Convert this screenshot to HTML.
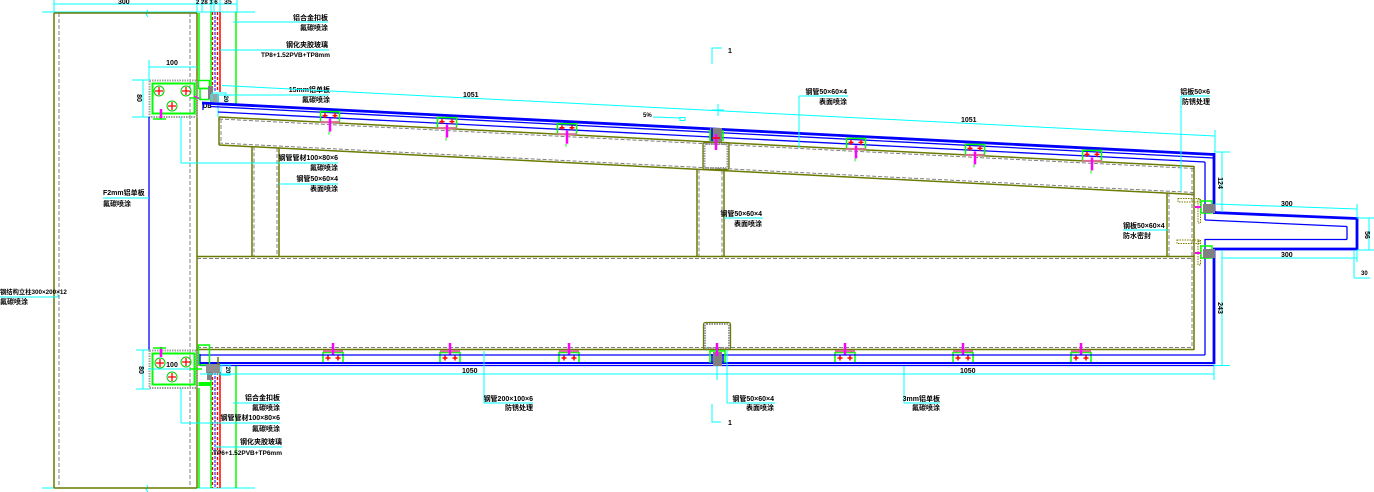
<!DOCTYPE html>
<html><head><meta charset="utf-8">
<style>
html,body{margin:0;padding:0;background:#fff;}
svg{display:block;}
text{font-family:"Liberation Sans","Noto Sans CJK SC",sans-serif;font-size:7px;font-weight:bold;fill:#000;}
.cy{stroke:#00ffff;stroke-width:1;fill:none;}
.ol{stroke:#6b7a00;stroke-width:1.5;fill:none;}
.gd{stroke:#808080;stroke-width:1;stroke-dasharray:4 2;fill:none;}
.bl{stroke:#0000ff;stroke-width:1.3;fill:none;}
.bt{stroke:#0000ff;stroke-width:2.8;fill:none;}
.gr{stroke:#00ff00;stroke-width:1.5;fill:none;}
.rd{stroke:#ff0000;stroke-width:1.5;fill:none;}
.mg{stroke:#ff00ff;stroke-width:2.5;fill:none;}
</style></head>
<body>
<svg width="1374" height="492" viewBox="0 0 1374 492" xmlns="http://www.w3.org/2000/svg">
<rect width="1374" height="492" fill="#fff"/>

<!-- ===== Column ===== -->
<line class="cy" x1="54" y1="4" x2="237" y2="4"/>
<line class="cy" x1="54" y1="0" x2="54" y2="12"/>
<line class="cy" x1="197" y1="0" x2="197" y2="12"/>
<line class="cy" x1="202" y1="0" x2="202" y2="12"/>
<line class="cy" x1="211" y1="0" x2="211" y2="12"/>
<line class="cy" x1="214" y1="0" x2="214" y2="12"/>
<line class="cy" x1="220" y1="0" x2="220" y2="12"/>
<line class="cy" x1="237" y1="0" x2="237" y2="12"/>
<text x="118" y="4">300</text>
<text x="196" y="4" style="font-size:6px">2 28 3 6</text>
<text x="224" y="4">35</text>
<line class="cy" x1="42" y1="12" x2="255" y2="12"/>
<line class="cy" x1="42" y1="488" x2="255" y2="488"/>
<path class="cy" d="M147 10 l1 3 l-2 1 l2 3"/>
<path class="cy" d="M147 485 l1 3 l-2 1 l2 3"/>

<line class="ol" x1="54" y1="13" x2="197" y2="13"/>
<line class="ol" x1="54" y1="488" x2="197" y2="488"/>
<line class="ol" x1="54" y1="13" x2="54" y2="488"/>
<line class="ol" x1="197" y1="13" x2="197" y2="488"/>
<line class="gd" x1="59" y1="13" x2="59" y2="488"/>
<line class="gd" x1="190" y1="13" x2="190" y2="488"/>
<line class="gr" x1="199" y1="13" x2="199" y2="80"/>
<line class="gr" x1="199" y1="388" x2="199" y2="488"/>

<!-- glass top -->
<line class="gr" x1="211" y1="12" x2="211" y2="95"/>
<line stroke="#ff0000" stroke-width="1.3" stroke-dasharray="3 2" x1="212.5" y1="12" x2="212.5" y2="92"/>
<line stroke="#8080ff" stroke-width="2" stroke-dasharray="3 1" x1="215" y1="12" x2="215" y2="92"/>
<line stroke="#ff0000" stroke-width="1.3" stroke-dasharray="3 2" x1="217.5" y1="12" x2="217.5" y2="92"/>
<line class="rd" x1="220" y1="12" x2="220" y2="92"/>
<line class="gr" x1="236" y1="12" x2="236" y2="104"/>
<!-- glass bottom -->
<line class="gr" x1="211" y1="372" x2="211" y2="488"/>
<line stroke="#ff0000" stroke-width="1.3" stroke-dasharray="3 2" x1="212.5" y1="372" x2="212.5" y2="488"/>
<line stroke="#8080ff" stroke-width="2" stroke-dasharray="3 1" x1="215" y1="372" x2="215" y2="488"/>
<line stroke="#ff0000" stroke-width="1.3" stroke-dasharray="3 2" x1="217.5" y1="372" x2="217.5" y2="488"/>
<line class="rd" x1="220" y1="372" x2="220" y2="488"/>
<line class="gr" x1="236" y1="366" x2="236" y2="488"/>

<!-- labels upper left -->
<line class="cy" x1="233" y1="22" x2="328" y2="22"/>
<text x="328" y="20" text-anchor="end">铝合金扣板</text>
<text x="328" y="30" text-anchor="end">氟碳喷涂</text>
<line class="cy" x1="220" y1="50" x2="329" y2="50"/>
<text x="328" y="47" text-anchor="end">钢化夹胶玻璃</text>
<text x="330" y="57" text-anchor="end" style="font-size:6.5px">TP8+1.52PVB+TP8mm</text>

<!-- top bracket -->
<line class="cy" x1="149" y1="60" x2="149" y2="80"/>
<line class="cy" x1="149" y1="67" x2="197" y2="67"/>
<text x="172" y="65" text-anchor="middle">100</text>
<line class="cy" x1="132" y1="80" x2="150" y2="80"/>
<line class="cy" x1="132" y1="117" x2="150" y2="117"/>
<line class="cy" x1="143" y1="80" x2="143" y2="117"/>
<text x="0" y="0" transform="translate(137,98) rotate(90)" text-anchor="middle">80</text>
<rect x="149.5" y="80.5" width="47" height="36.5" fill="none" stroke="#a0a0a0" stroke-width="2" stroke-dasharray="1.5 1"/>
<rect x="152.5" y="83.5" width="42" height="30" fill="none" stroke="#00ff00" stroke-width="2"/>
<g stroke="#00cc00" stroke-width="1" fill="none"><circle cx="159" cy="91" r="5"/><circle cx="186" cy="91" r="5"/><circle cx="172" cy="106" r="5"/></g>
<g stroke="#ff0000" stroke-width="1.3"><path d="M155 91h8M159 87v8M182 91h8M186 87v8M168 106h8M172 102v8"/></g>
<line class="mg" x1="161" y1="109" x2="161" y2="119"/>
<line class="gr" x1="153" y1="119" x2="166" y2="119"/>
<line class="gr" x1="190" y1="98" x2="201" y2="98"/>
<line stroke="#ff00ff" stroke-width="1.5" x1="194" y1="96" x2="200" y2="99"/>
<rect x="198.5" y="80.5" width="11" height="8" fill="none" stroke="#00ff00" stroke-width="1.5"/>
<rect x="200" y="88.5" width="9" height="11" fill="none" stroke="#00ff00" stroke-width="1.5"/>
<rect x="208" y="86" width="5" height="13" fill="#808080"/>
<rect x="210" y="94" width="9" height="8" fill="#a0a0a0"/>
<rect x="212" y="93" width="14" height="11" fill="none" stroke="#00ffff" stroke-width="1"/>
<text x="0" y="0" transform="translate(224,99) rotate(90)" text-anchor="middle" style="font-size:6px">20</text>
<text x="203" y="108" style="font-size:6px">DB</text>
<line class="cy" x1="218" y1="94" x2="218" y2="117"/>
<line class="cy" x1="218" y1="95" x2="329" y2="95"/>
<text x="330" y="92" text-anchor="end">15mm铝单板</text>
<text x="330" y="102" text-anchor="end">氟碳喷涂</text>

<!-- blue link between brackets -->
<line class="bl" x1="149" y1="117" x2="149" y2="350"/>
<line class="cy" x1="103" y1="198" x2="149" y2="198"/>
<text x="103" y="195">F2mm铝单板</text>
<text x="103" y="206">氟碳喷涂</text>

<!-- left label -->
<line class="cy" x1="0" y1="297" x2="58" y2="297"/>
<line class="cy" x1="58" y1="294" x2="58" y2="297"/>
<text x="0" y="294" style="font-size:6.3px">钢结构立柱300×200×12</text>
<text x="0" y="304">氟碳喷涂</text>

<!-- ===== Sloped roof ===== -->
<!-- cyan slope dim -->
<line class="cy" x1="222" y1="85.5" x2="1215" y2="136"/>
<line class="cy" x1="1215" y1="130" x2="1215" y2="152"/>
<text x="463" y="97">1051</text>
<text x="961" y="122">1051</text>
<line class="cy" x1="712" y1="110" x2="724" y2="110"/>
<line class="cy" x1="718" y1="104" x2="718" y2="116"/>
<text x="643" y="117" style="font-size:6px">5%</text>
<line class="cy" x1="653" y1="117" x2="680" y2="118"/>
<rect x="680" y="117.5" width="5" height="3" fill="none" stroke="#00ffff" stroke-width="1"/>

<!-- section marks -->
<path class="cy" d="M722 48 H712 V64"/>
<text x="728" y="53">1</text>
<path class="cy" d="M712 404 V422 H721"/>
<text x="728" y="425">1</text>

<!-- blue roof skin -->
<line class="bt" x1="202" y1="103" x2="1214" y2="154.5"/>
<line class="bl" x1="210" y1="106.5" x2="1214" y2="158"/>
<line class="bl" x1="218" y1="112" x2="1205" y2="162"/>
<line class="bl" x1="203" y1="103" x2="203" y2="110"/>
<line class="bt" x1="1214" y1="153" x2="1214" y2="212"/>
<line class="bl" x1="1205" y1="162" x2="1205" y2="220"/>

<!-- upper sloped beam -->
<line class="ol" x1="219" y1="117" x2="1194" y2="166.5"/>
<line class="gd" x1="219" y1="119" x2="1194" y2="168.5"/>
<line class="ol" x1="219" y1="145" x2="1194" y2="194.5"/>
<line class="gd" x1="219" y1="143" x2="1194" y2="192.5"/>
<line class="ol" x1="219" y1="117" x2="219" y2="145"/>
<line class="gd" x1="221" y1="119" x2="221" y2="143"/>
<line class="ol" x1="1194" y1="166" x2="1194" y2="350"/>
<line class="gd" x1="1192" y1="168" x2="1192" y2="348"/>

<!-- verticals -->
<line class="ol" x1="252" y1="146.5" x2="252" y2="256"/>
<line class="gd" x1="254" y1="146.5" x2="254" y2="256"/>
<line class="gd" x1="277" y1="148" x2="277" y2="256"/>
<line class="ol" x1="279" y1="148" x2="279" y2="256"/>
<line class="ol" x1="697" y1="169.5" x2="697" y2="256"/>
<line class="gd" x1="699" y1="169.5" x2="699" y2="256"/>
<line class="gd" x1="722" y1="170.5" x2="722" y2="256"/>
<line class="ol" x1="724" y1="170.5" x2="724" y2="256"/>
<line class="ol" x1="1167" y1="193" x2="1167" y2="256"/>
<line class="gd" x1="1169" y1="193" x2="1169" y2="256"/>

<!-- mid horizontal & bottom beam -->
<line class="ol" x1="197" y1="256.5" x2="1194" y2="256.5"/>
<line class="gd" x1="197" y1="258.5" x2="1194" y2="258.5"/>
<line class="gd" x1="197" y1="347.5" x2="1194" y2="347.5"/>
<line class="ol" x1="197" y1="349.5" x2="1194" y2="349.5"/>

<!-- tubes -->
<rect x="703" y="142.5" width="26" height="27" rx="2" fill="none" stroke="#6b7a00" stroke-width="1.3"/>
<rect x="704.5" y="144" width="23" height="24" rx="1.5" fill="none" stroke="#909090" stroke-width="2" stroke-dasharray="1.5 1"/>
<rect x="703.5" y="322.5" width="27" height="27" rx="2" fill="none" stroke="#6b7a00" stroke-width="1.3"/>
<rect x="705" y="324" width="24" height="24" rx="1.5" fill="none" stroke="#909090" stroke-width="2" stroke-dasharray="1.5 1"/>

<!-- mid top special connector -->
<rect x="710" y="128" width="12" height="14" fill="#808080"/>
<line class="gr" x1="710" y1="130" x2="710" y2="141"/>
<line class="gr" x1="723" y1="130" x2="723" y2="141"/>
<line stroke="#0000ff" stroke-width="1.5" x1="712" y1="128" x2="712" y2="141"/>
<line class="mg" x1="716" y1="134" x2="716" y2="150"/>
<line class="rd" x1="712" y1="138" x2="720" y2="138"/>

<!-- top connectors -->
<g id="tc">
</g>
<g>
<!-- cx, yb -->
<g transform="translate(330,122.6)"><rect x="-9.5" y="-11" width="19" height="10.5" fill="none" stroke="#00ff00" stroke-width="1.5"/><rect x="-10" y="-1.5" width="20" height="2" fill="#d87093"/><path d="M-7.5 -7h5M-5 -9.5v5M2.5 -7h5M5 -9.5v5" stroke="#ff0000" stroke-width="1.5"/><line class="mg" x1="0" y1="-4" x2="0" y2="9"/><line stroke="#00ff00" stroke-width="1" x1="-1" y1="9" x2="-1" y2="12"/></g>
<g transform="translate(447,128.6)"><rect x="-9.5" y="-11" width="19" height="10.5" fill="none" stroke="#00ff00" stroke-width="1.5"/><rect x="-10" y="-1.5" width="20" height="2" fill="#d87093"/><path d="M-7.5 -7h5M-5 -9.5v5M2.5 -7h5M5 -9.5v5" stroke="#ff0000" stroke-width="1.5"/><line class="mg" x1="0" y1="-4" x2="0" y2="9"/><line stroke="#00ff00" stroke-width="1" x1="-1" y1="9" x2="-1" y2="12"/></g>
<g transform="translate(567,134.7)"><rect x="-9.5" y="-11" width="19" height="10.5" fill="none" stroke="#00ff00" stroke-width="1.5"/><rect x="-10" y="-1.5" width="20" height="2" fill="#d87093"/><path d="M-7.5 -7h5M-5 -9.5v5M2.5 -7h5M5 -9.5v5" stroke="#ff0000" stroke-width="1.5"/><line class="mg" x1="0" y1="-4" x2="0" y2="9"/><line stroke="#00ff00" stroke-width="1" x1="-1" y1="9" x2="-1" y2="12"/></g>
<g transform="translate(856,149.4)"><rect x="-9.5" y="-11" width="19" height="10.5" fill="none" stroke="#00ff00" stroke-width="1.5"/><rect x="-10" y="-1.5" width="20" height="2" fill="#d87093"/><path d="M-7.5 -7h5M-5 -9.5v5M2.5 -7h5M5 -9.5v5" stroke="#ff0000" stroke-width="1.5"/><line class="mg" x1="0" y1="-4" x2="0" y2="9"/><line stroke="#00ff00" stroke-width="1" x1="-1" y1="9" x2="-1" y2="12"/></g>
<g transform="translate(975,155.4)"><rect x="-9.5" y="-11" width="19" height="10.5" fill="none" stroke="#00ff00" stroke-width="1.5"/><rect x="-10" y="-1.5" width="20" height="2" fill="#d87093"/><path d="M-7.5 -7h5M-5 -9.5v5M2.5 -7h5M5 -9.5v5" stroke="#ff0000" stroke-width="1.5"/><line class="mg" x1="0" y1="-4" x2="0" y2="9"/><line stroke="#00ff00" stroke-width="1" x1="-1" y1="9" x2="-1" y2="12"/></g>
<g transform="translate(1092,161.4)"><rect x="-9.5" y="-11" width="19" height="10.5" fill="none" stroke="#00ff00" stroke-width="1.5"/><rect x="-10" y="-1.5" width="20" height="2" fill="#d87093"/><path d="M-7.5 -7h5M-5 -9.5v5M2.5 -7h5M5 -9.5v5" stroke="#ff0000" stroke-width="1.5"/><line class="mg" x1="0" y1="-4" x2="0" y2="9"/><line stroke="#00ff00" stroke-width="1" x1="-1" y1="9" x2="-1" y2="12"/></g>
</g>

<!-- bottom connectors -->
<g transform="translate(333,350)"><rect x="-10" y="2.5" width="20" height="10.5" fill="none" stroke="#00ff00" stroke-width="1.5"/><rect x="-10" y="0" width="20" height="2.2" fill="#d87093"/><path d="M-7.5 8h5M-5 5.5v5M2.5 8h5M5 5.5v5" stroke="#ff0000" stroke-width="1.5"/><line class="mg" x1="0" y1="-7" x2="0" y2="5"/></g>
<g transform="translate(450,350)"><rect x="-10" y="2.5" width="20" height="10.5" fill="none" stroke="#00ff00" stroke-width="1.5"/><rect x="-10" y="0" width="20" height="2.2" fill="#d87093"/><path d="M-7.5 8h5M-5 5.5v5M2.5 8h5M5 5.5v5" stroke="#ff0000" stroke-width="1.5"/><line class="mg" x1="0" y1="-7" x2="0" y2="5"/></g>
<g transform="translate(569,350)"><rect x="-10" y="2.5" width="20" height="10.5" fill="none" stroke="#00ff00" stroke-width="1.5"/><rect x="-10" y="0" width="20" height="2.2" fill="#d87093"/><path d="M-7.5 8h5M-5 5.5v5M2.5 8h5M5 5.5v5" stroke="#ff0000" stroke-width="1.5"/><line class="mg" x1="0" y1="-7" x2="0" y2="5"/></g>
<g transform="translate(845,350)"><rect x="-10" y="2.5" width="20" height="10.5" fill="none" stroke="#00ff00" stroke-width="1.5"/><rect x="-10" y="0" width="20" height="2.2" fill="#d87093"/><path d="M-7.5 8h5M-5 5.5v5M2.5 8h5M5 5.5v5" stroke="#ff0000" stroke-width="1.5"/><line class="mg" x1="0" y1="-7" x2="0" y2="5"/></g>
<g transform="translate(963,350)"><rect x="-10" y="2.5" width="20" height="10.5" fill="none" stroke="#00ff00" stroke-width="1.5"/><rect x="-10" y="0" width="20" height="2.2" fill="#d87093"/><path d="M-7.5 8h5M-5 5.5v5M2.5 8h5M5 5.5v5" stroke="#ff0000" stroke-width="1.5"/><line class="mg" x1="0" y1="-7" x2="0" y2="5"/></g>
<g transform="translate(1081,350)"><rect x="-10" y="2.5" width="20" height="10.5" fill="none" stroke="#00ff00" stroke-width="1.5"/><rect x="-10" y="0" width="20" height="2.2" fill="#d87093"/><path d="M-7.5 8h5M-5 5.5v5M2.5 8h5M5 5.5v5" stroke="#ff0000" stroke-width="1.5"/><line class="mg" x1="0" y1="-7" x2="0" y2="5"/></g>

<!-- bottom blue skin -->
<line class="bl" x1="200" y1="355" x2="1205" y2="355"/>
<line stroke="#0000ff" stroke-width="2" x1="200" y1="363" x2="1214" y2="363"/>
<line class="bl" x1="200" y1="365.5" x2="1214" y2="365.5"/>
<line class="bl" x1="200" y1="354" x2="200" y2="366"/>
<line class="bl" x1="1205" y1="239" x2="1205" y2="355"/>
<line class="bt" x1="1214" y1="249" x2="1214" y2="364"/>

<!-- mid bottom special connector -->
<rect x="710" y="351" width="15" height="11" fill="none" stroke="#00ff00" stroke-width="1.5"/>
<rect x="713" y="352" width="9" height="14" fill="#808080"/>
<line stroke="#0000ff" stroke-width="1.5" x1="712" y1="354" x2="712" y2="364"/>
<line stroke="#0000ff" stroke-width="1.5" x1="723" y1="354" x2="723" y2="364"/>
<line class="mg" x1="717" y1="343" x2="717" y2="356"/>

<!-- bottom bracket -->
<line class="cy" x1="136" y1="350" x2="150" y2="350"/>
<line class="cy" x1="136" y1="389" x2="150" y2="389"/>
<line class="cy" x1="143" y1="350" x2="143" y2="389"/>
<text x="0" y="0" transform="translate(139,370) rotate(90)" text-anchor="middle">80</text>
<rect x="149.5" y="350.5" width="47" height="37.5" fill="none" stroke="#a0a0a0" stroke-width="2" stroke-dasharray="1.5 1"/>
<rect x="152.5" y="353.5" width="42" height="31" fill="none" stroke="#00ff00" stroke-width="2"/>
<g stroke="#00cc00" stroke-width="1" fill="none"><circle cx="160" cy="363" r="5"/><circle cx="186" cy="362" r="5"/><circle cx="172" cy="377" r="5"/></g>
<g stroke="#ff0000" stroke-width="1.3"><path d="M156 363h8M160 359v8M182 362h8M186 358v8M168 377h8M172 373v8"/></g>
<line class="cy" x1="148" y1="369" x2="200" y2="369"/>
<text x="172" y="367" text-anchor="middle">100</text>
<line class="mg" x1="161" y1="347" x2="161" y2="357"/>
<line class="gr" x1="153" y1="348" x2="166" y2="348"/>
<line class="gr" x1="190" y1="369" x2="202" y2="369"/>
<rect x="198.5" y="345" width="11" height="20" fill="none" stroke="#00ff00" stroke-width="1.5"/>
<rect x="198.5" y="382" width="12" height="4" fill="#00ff00"/>
<rect x="206" y="364" width="14" height="9" fill="#909090"/>
<rect x="207" y="372" width="5" height="8" fill="#808080"/>
<path d="M218 357v7h2" stroke="#6b7a00" stroke-width="1.5" fill="none"/>
<rect x="221" y="365" width="9" height="10" fill="none" stroke="#00ffff" stroke-width="1"/>
<text x="0" y="0" transform="translate(226,370) rotate(90)" text-anchor="middle" style="font-size:6px">20</text>

<!-- bottom left labels -->
<line class="cy" x1="233" y1="403" x2="280" y2="403"/>
<text x="280" y="400" text-anchor="end">铝合金扣板</text>
<text x="280" y="410" text-anchor="end">氟碳喷涂</text>
<line class="cy" x1="181" y1="388" x2="181" y2="423"/>
<line class="cy" x1="181" y1="423" x2="280" y2="423"/>
<text x="280" y="420" text-anchor="end">钢管管材100×80×6</text>
<text x="280" y="431" text-anchor="end">氟碳喷涂</text>
<line class="cy" x1="215" y1="447" x2="282" y2="447"/>
<text x="282" y="444" text-anchor="end">钢化夹胶玻璃</text>
<text x="282" y="455" text-anchor="end" style="font-size:6.5px">TP6+1.52PVB+TP6mm</text>

<!-- mid labels upper -->
<line class="cy" x1="181" y1="117" x2="181" y2="163"/>
<line class="cy" x1="181" y1="163" x2="338" y2="163"/>
<text x="338" y="160" text-anchor="end">钢管管材100×80×6</text>
<text x="338" y="170" text-anchor="end">氟碳喷涂</text>
<line class="cy" x1="279" y1="184" x2="338" y2="184"/>
<text x="338" y="181" text-anchor="end">钢管50×60×4</text>
<text x="338" y="191" text-anchor="end">表面喷涂</text>

<line class="cy" x1="799" y1="96" x2="799" y2="148"/>
<line class="cy" x1="799" y1="96" x2="848" y2="96"/>
<text x="847" y="94" text-anchor="end">钢管50×60×4</text>
<text x="847" y="104" text-anchor="end">表面喷涂</text>

<line class="cy" x1="724" y1="218" x2="763" y2="218"/>
<text x="762" y="216" text-anchor="end">钢管50×60×4</text>
<text x="762" y="226" text-anchor="end">表面喷涂</text>

<line class="cy" x1="1181" y1="96" x2="1181" y2="191"/>
<line class="cy" x1="1181" y1="96" x2="1210" y2="96"/>
<text x="1210" y="94" text-anchor="end">铝板50×6</text>
<text x="1210" y="104" text-anchor="end">防锈处理</text>

<line class="cy" x1="1123" y1="230" x2="1168" y2="230"/>
<text x="1123" y="228">钢板50×60×4</text>
<text x="1123" y="238">防水密封</text>

<!-- bottom dims & labels -->
<line class="cy" x1="200" y1="374" x2="1214" y2="374"/>
<line class="cy" x1="1214" y1="364" x2="1214" y2="380"/>
<line class="cy" x1="717" y1="366" x2="717" y2="380"/>
<text x="462" y="373">1050</text>
<text x="960" y="373">1050</text>
<line class="cy" x1="484" y1="351" x2="484" y2="403"/>
<line class="cy" x1="484" y1="403" x2="533" y2="403"/>
<text x="533" y="401" text-anchor="end">钢管200×100×6</text>
<text x="533" y="410" text-anchor="end">防锈处理</text>
<line class="cy" x1="727" y1="350" x2="727" y2="403"/>
<line class="cy" x1="727" y1="403" x2="775" y2="403"/>
<text x="774" y="401" text-anchor="end">钢管50×60×4</text>
<text x="774" y="410" text-anchor="end">表面喷涂</text>
<line class="cy" x1="904" y1="366" x2="904" y2="403"/>
<line class="cy" x1="904" y1="403" x2="940" y2="403"/>
<text x="940" y="401" text-anchor="end">3mm铝单板</text>
<text x="940" y="410" text-anchor="end">氟碳喷涂</text>

<!-- ===== Awning (right) ===== -->
<line class="bt" x1="1213" y1="212.5" x2="1357" y2="218.5"/>
<line class="bl" x1="1205" y1="220" x2="1347" y2="226.5"/>
<line class="bl" x1="1347" y1="226.5" x2="1347" y2="239.5"/>
<line class="bl" x1="1205" y1="239.5" x2="1347" y2="239.5"/>
<line class="bt" x1="1357" y1="217" x2="1357" y2="250"/>
<line class="bt" x1="1213" y1="249" x2="1358" y2="249"/>

<!-- awning hardware -->
<rect x="1178" y="198.5" width="22" height="3.5" fill="none" stroke="#808000" stroke-width="1" stroke-dasharray="1.5 1"/>
<rect x="1198" y="199" width="2.5" height="24" fill="none" stroke="#808000" stroke-width="1" stroke-dasharray="1.5 1"/>
<rect x="1201" y="201" width="11" height="12" fill="none" stroke="#00ff00" stroke-width="1.5"/>
<rect x="1203" y="204" width="12" height="9" fill="#808080"/>
<line stroke="#ff00ff" stroke-width="2" x1="1195" y1="207" x2="1201" y2="207"/>
<rect x="1177" y="240" width="22" height="3.5" fill="none" stroke="#808000" stroke-width="1" stroke-dasharray="1.5 1"/>
<rect x="1198" y="240" width="2.5" height="25" fill="none" stroke="#808000" stroke-width="1" stroke-dasharray="1.5 1"/>
<rect x="1201" y="246" width="11" height="12" fill="none" stroke="#00ff00" stroke-width="1.5"/>
<rect x="1203" y="249" width="12" height="9" fill="#808080"/>
<line stroke="#ff00ff" stroke-width="2" x1="1195" y1="253" x2="1201" y2="253"/>

<!-- right dims -->
<line class="cy" x1="1214" y1="152" x2="1230" y2="152"/>
<line class="cy" x1="1222" y1="152" x2="1222" y2="212"/>
<line class="cy" x1="1222" y1="250" x2="1222" y2="366"/>
<line class="cy" x1="1214" y1="365.5" x2="1230" y2="365.5"/>
<text x="0" y="0" transform="translate(1218,183) rotate(90)" text-anchor="middle">124</text>
<text x="0" y="0" transform="translate(1218,308) rotate(90)" text-anchor="middle">243</text>
<line class="cy" x1="1215" y1="204" x2="1357" y2="209"/>
<line class="cy" x1="1357" y1="204" x2="1357" y2="218"/>
<text x="1281" y="206">300</text>
<line class="cy" x1="1222" y1="258" x2="1357" y2="258"/>
<line class="cy" x1="1357" y1="250" x2="1357" y2="262"/>
<text x="1281" y="257">300</text>
<line class="cy" x1="1357" y1="218" x2="1374" y2="218"/>
<line class="cy" x1="1357" y1="250" x2="1374" y2="250"/>
<line class="cy" x1="1369" y1="218" x2="1369" y2="250"/>
<text x="0" y="0" transform="translate(1365,235) rotate(90)" text-anchor="middle">56</text>
<line class="cy" x1="1354" y1="250" x2="1354" y2="278"/>
<line class="cy" x1="1354" y1="278" x2="1370" y2="278"/>
<text x="1361" y="275" style="font-size:6px">30</text>

</svg>
</body></html>
